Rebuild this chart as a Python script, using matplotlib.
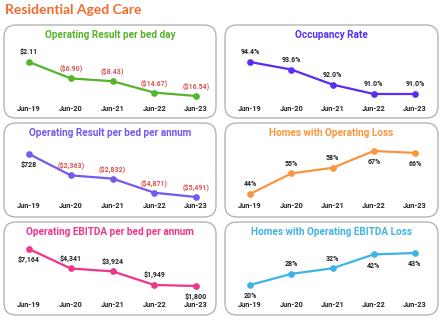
import matplotlib.pyplot as plt
from matplotlib.patches import FancyBboxPatch

# categories shared by every panel
periods = ['Jun-19', 'Jun-20', 'Jun-21', 'Jun-22', 'Jun-23']

# series values
result_per_bed_day = [2.11, -6.90, -8.43, -14.67, -16.54]
occupancy_rate = [94.4, 93.6, 92.0, 91.0, 91.0]
result_per_bed_annum = [728, -2363, -2832, -4871, -5491]
homes_operating_loss = [44, 55, 58, 67, 66]
ebitda_per_bed_annum = [7164, 4341, 3924, 1949, 1800]
homes_ebitda_loss = [20, 28, 32, 42, 43]

W, H = 443, 325
fig = plt.figure(figsize=(W / 100, H / 100), dpi=100)
plt.rcParams['font.family'] = ['Roboto', 'DejaVu Sans']

# background axes in pixel units for the boxes and main title
bg = fig.add_axes([0, 0, 1, 1])
bg.set_xlim(0, W)
bg.set_ylim(H, 0)
bg.axis('off')
bg.text(5, 10, 'Residential Aged Care', fontsize=10, fontweight='bold',
        color='#f26b2a', family='Lato', va='center', ha='left')


def money2(v):
    return '$%.2f' % v if v >= 0 else '($%.2f)' % -v


def money0(v):
    return '${:,.0f}'.format(v) if v >= 0 else '(${:,.0f})'.format(-v)


def pct1(v):
    return '%.1f%%' % v


def pct0(v):
    return '%.0f%%' % v


# (title, values, colour, formatter, label above?, box, x-range px, y-range px, tick y)
panels = [
    ('Operating Result per bed day', result_per_bed_day, '#55b42c', money2,
     [True, True, True, True, True], (4, 25, 216, 118), (29, 196), (62, 96), 109),
    ('Occupancy Rate', occupancy_rate, '#5b2df2', pct1,
     [True, True, True, True, True], (225, 25, 438, 118), (250, 415), (62, 94), 109),
    ('Operating Result per bed per annum', result_per_bed_annum, '#7658ee', money0,
     [False, True, True, True, True], (4, 123, 216, 217), (29, 196), (154, 197), 206),
    ('Homes with Operating Loss', homes_operating_loss, '#f7963f', pct0,
     [True, True, True, False, False], (225, 123, 438, 217), (250, 415), (151, 194), 206),
    ('Operating EBITDA per bed per annum', ebitda_per_bed_annum, '#f0358a', money0,
     [False, True, True, True, False], (4, 222, 216, 315), (29, 196), (249, 286), 305),
    ('Homes with Operating EBITDA Loss', homes_ebitda_loss, '#3fb4e4', pct0,
     [False, True, True, False, False], (225, 222, 438, 315), (250, 415), (253, 285), 305),
]

for title, vals, col, fmt, above, box, xr, yr, ty in panels:
    x0, y0, x1, y1 = box
    bg.add_patch(FancyBboxPatch((x0, y0), x1 - x0, y1 - y0,
                                boxstyle='round,pad=0,rounding_size=12',
                                fc='white', ec='#b4b4b4', lw=1.0))
    bg.text((x0 + x1) / 2, y0 + 10, title, fontsize=7.2, fontweight='bold',
            color=col, ha='center', va='center')

    ax = fig.add_axes([xr[0] / W, 1 - yr[1] / H, (xr[1] - xr[0]) / W, (yr[1] - yr[0]) / H])
    ax.set_xlim(0, len(periods) - 1)
    ax.set_ylim(min(vals), max(vals))
    ax.axis('off')
    xs = list(range(len(periods)))
    ax.plot(xs, vals, color=col, lw=1.6, marker='o', ms=3.8, clip_on=False)
    for i, v in enumerate(vals):
        tc = '#e05050' if v < 0 else '#222222'
        dy = 7 if above[i] else -8
        ax.annotate(fmt(v), (i, v), xytext=(0, dy), textcoords='offset points',
                    ha='center', va='center', fontsize=5.0, fontweight='bold',
                    color=tc, annotation_clip=False)
    for i, p in enumerate(periods):
        bg.text(xr[0] + i * (xr[1] - xr[0]) / 4, ty, p, fontsize=5.3,
                fontweight='bold', color='#222222', ha='center', va='center')

fig.savefig('out.png', dpi=100)
